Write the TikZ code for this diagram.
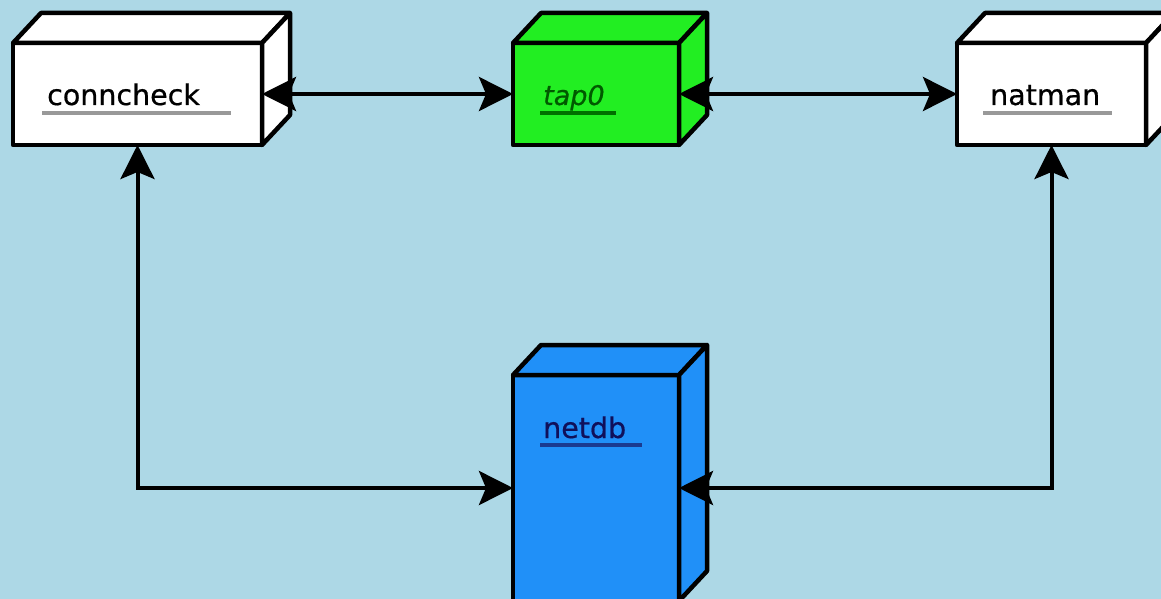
\documentclass[tikz,border=0pt]{standalone}
\usepackage{fontspec}
\setmainfont{DejaVu Sans}
\usetikzlibrary{arrows.meta}
\definecolor{bg}{HTML}{ADD8E6}
\definecolor{tapgreen}{HTML}{22EE22}
\definecolor{dbblue}{HTML}{2090F8}
\definecolor{tapink}{HTML}{005A00}
\definecolor{dbink}{HTML}{10105A}
\definecolor{ulgray}{HTML}{999999}
\definecolor{ulgreen}{HTML}{007000}
\definecolor{ulblue}{HTML}{1A3A90}

\tikzset{
  face/.style={draw=black, line width=4.5pt, line join=round},
  frontface/.style={face, rectangle, inner sep=0pt, outer sep=0pt},
  lbl/.style={inner sep=0pt, font=\fontsize{28.5}{34}\selectfont\addfontfeature{FakeBold=0.6}},
  uline/.style={line width=3.5pt},
  conn/.style={draw=black, line width=4pt,
    {Stealth[length=34pt,width=34pt,inset=7pt]}-{Stealth[length=34pt,width=34pt,inset=7pt]}}
}

% a box drawn as a cube: name, left, top, width, height, fill
\newcommand\cubebox[6]{%
  \node[frontface, fill=#6, minimum width=#4pt, minimum height=#5pt,
        anchor=north west] (#1) at (#2,#3) {};
  \draw[face, fill=#6] (#1.north west) -- ++(28,-30) -- ++(#4,0)
        -- (#1.north east) -- cycle;
  \draw[face, fill=#6] (#1.north east) -- ++(28,-30) -- ++(0,#5)
        -- (#1.south east) -- cycle;
}

\begin{document}
\begin{tikzpicture}[x=1pt, y=-1pt]
  \useasboundingbox (0,0) rectangle (1161,599);
  \clip (0,0) rectangle (1161,599);
  \fill[bg] (0,0) rectangle (1161,599);

  % the four cubes
  \cubebox{conncheck}{13}{43}{249}{102}{white}
  \cubebox{tap0}{513}{43}{166}{102}{tapgreen}
  \cubebox{natman}{957}{43}{189}{102}{white}
  \cubebox{netdb}{513}{375}{166}{226}{dbblue}

  % labels with their underlines
  \node[lbl, anchor=base west] (conncheck-l) at (47,105) {conncheck};
  \draw[uline, ulgray] ([xshift=-5pt,yshift=-8pt]conncheck-l.base west)
        -- ([xshift=31pt,yshift=-8pt]conncheck-l.base east);

  \node[lbl, anchor=base west, text=tapink,
        font=\fontsize{27}{32}\selectfont\itshape\addfontfeature{FakeBold=0.6}]
        (tap0-l) at (543,105) {tap0};
  \draw[uline, ulgreen] ([xshift=-3pt,yshift=-8pt]tap0-l.base west)
        -- ([xshift=11pt,yshift=-8pt]tap0-l.base east);

  \node[lbl, anchor=base west] (natman-l) at (990,105) {natman};
  \draw[uline, ulgray] ([xshift=-7pt,yshift=-8pt]natman-l.base west)
        -- ([xshift=12pt,yshift=-8pt]natman-l.base east);

  \node[lbl, anchor=base west, text=dbink] (netdb-l) at (543,438) {netdb};
  \draw[uline, ulblue] ([xshift=-3pt,yshift=-7pt]netdb-l.base west)
        -- ([xshift=16pt,yshift=-7pt]netdb-l.base east);

  % connectors
  \draw[conn] (conncheck.east) -- (tap0.west);
  \draw[conn] (tap0.east) -- (natman.west);
  \draw[conn] (conncheck.south) |- (netdb.west);
  \draw[conn] (natman.south) |- (netdb.east);
\end{tikzpicture}
\end{document}
